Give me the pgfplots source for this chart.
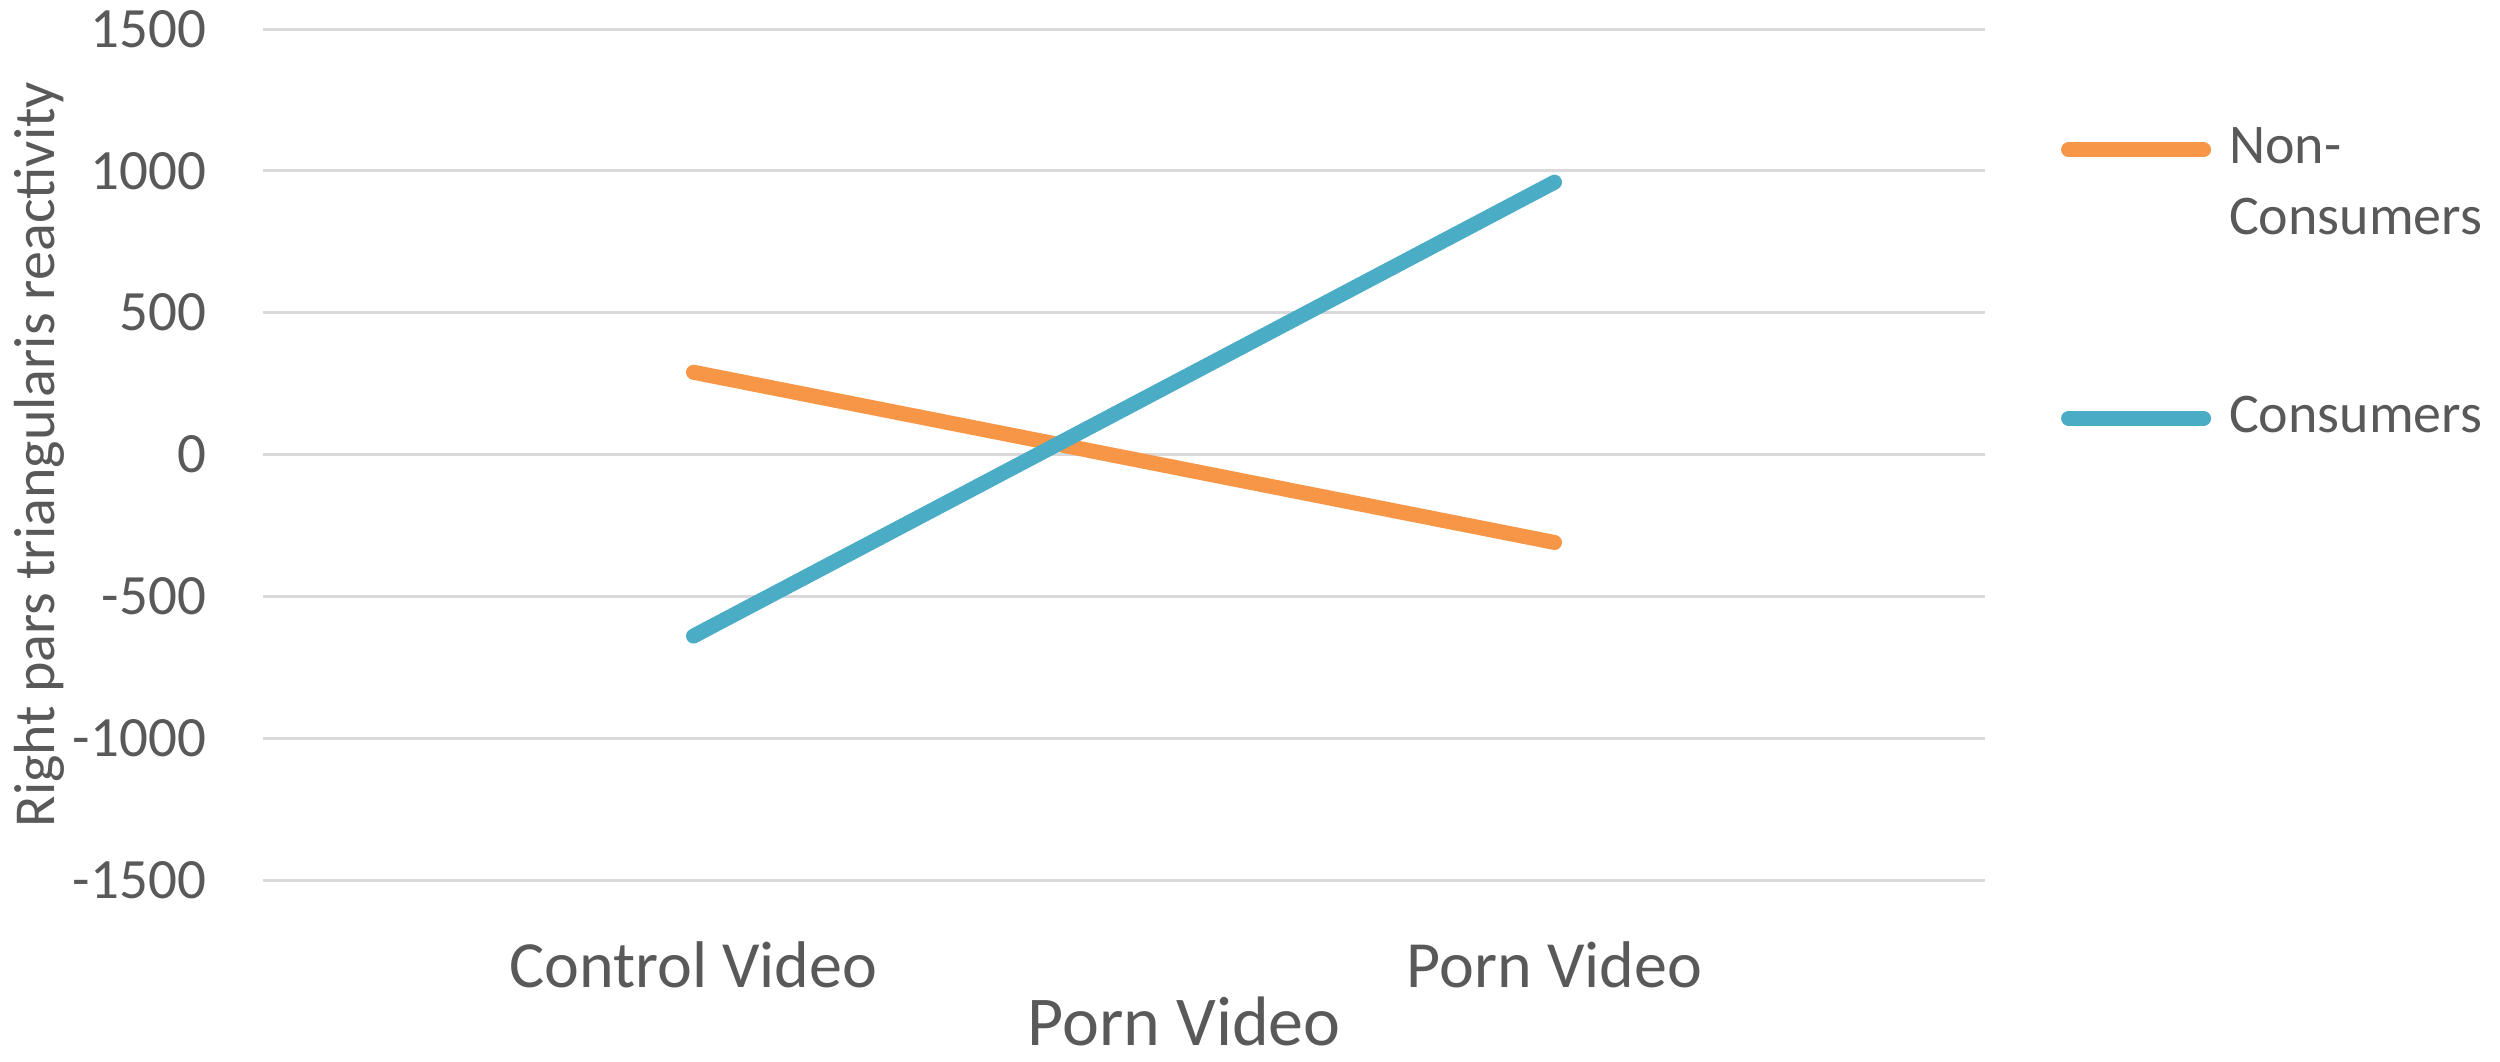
\documentclass[border=0pt]{standalone}
\usepackage{fontspec}
\setmainfont{Carlito}
\usepackage{pgfplots}
\pgfplotsset{compat=1.18}
\definecolor{txtgray}{HTML}{595959}
\definecolor{gridgray}{HTML}{D9D9D9}
\definecolor{exorange}{HTML}{F79646}
\definecolor{exblue}{HTML}{4BACC6}
\begin{document}
\begin{tikzpicture}
% page = 2500x1061 px at 0.2pt per px
\path[use as bounding box] (-52.6pt,-36.2pt) rectangle (447.4pt,176pt);
\begin{axis}[
  scale only axis,
  width=344.4pt, height=170.2pt,
  xmin=-0.5, xmax=1.5,
  ymin=-1500, ymax=1500,
  xtick={0,1},
  xticklabels={Control Video, Porn Video},
  ytick={-1500,-1000,-500,0,500,1000,1500},
  yticklabels={-1500,-1000,-500,0,500,1000,1500},
  axis line style={draw=none},
  major tick length=0pt,
  ymajorgrids,
  grid style={gridgray, line width=0.6pt},
  xticklabel style={anchor=base, inner sep=0pt, yshift=-21.4pt,
    font=\fontsize{13.2}{15}\selectfont, text=txtgray},
  yticklabel style={anchor=east, inner sep=0pt, xshift=-11.2pt,
    font=\fontsize{11.4}{13}\selectfont, text=txtgray},
  xlabel={Porn Video},
  xlabel style={at={(axis description cs:0.535,-0.1939)}, anchor=base,
    inner sep=0pt, font=\fontsize{14}{16}\selectfont, text=txtgray},
  ylabel={Right pars triangularis reactivity},
  ylabel style={at={(axis description cs:-0.1208,0.5)}, anchor=base,
    inner sep=0pt, font=\fontsize{11.6}{13}\selectfont, text=txtgray},
  legend image code/.code={\draw[#1, line cap=round] (0pt,0pt) -- (27pt,0pt);},
  legend style={draw=none, fill=none, inner sep=0pt,
    at={(axis description cs:1.0436,0.8848)}, anchor=north west,
    nodes={inner sep=0pt, text=txtgray},
    font=\fontsize{11.2}{13.5}\selectfont,
    column sep=3.6pt, row sep=45pt},
  legend cell align=left,
  clip=false,
]
\addplot[exorange, line width=3pt, line cap=round] coordinates {(0,290) (1,-310)};
\addplot[exblue, line width=3pt, line cap=round] coordinates {(0,-640) (1,960)};
\legend{\smash{\makebox[0pt][l]{\raisebox{-14.2pt}{Consumers}}}Non-, Consumers}
\end{axis}
\end{tikzpicture}
\end{document}
